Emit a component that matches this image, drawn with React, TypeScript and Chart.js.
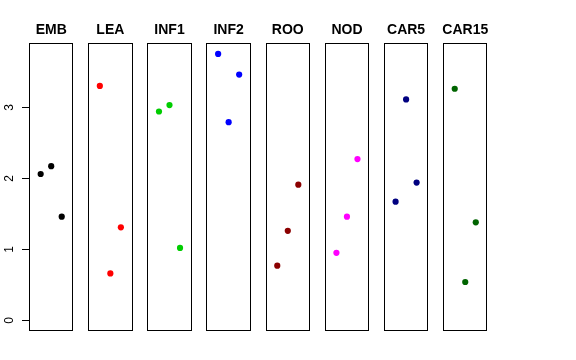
import { useEffect, useRef } from "react";
import { Chart, registerables } from "chart.js";
Chart.register(...registerables);

const panelNames = ["EMB", "LEA", "INF1", "INF2", "ROO", "NOD", "CAR5", "CAR15"];
const panelColors = ["#000000", "#FF0000", "#00CD00", "#0000FF", "#8B0000", "#FF00FF", "#000080", "#006400"];
const positions = [1, 2, 3];
const embValues = [2.06, 2.17, 1.46];
const leaValues = [3.30, 0.66, 1.31];
const inf1Values = [2.94, 3.03, 1.02];
const inf2Values = [3.75, 2.79, 3.46];
const rooValues = [0.77, 1.26, 1.91];
const nodValues = [0.95, 1.46, 2.27];
const car5Values = [1.67, 3.11, 1.94];
const car15Values = [3.26, 0.54, 1.38];
const allValues = [embValues, leaValues, inf1Values, inf2Values, rooValues, nodValues, car5Values, car15Values];
const yTicks = [0, 1, 2, 3];

const W = 576, H = 360;
const FIRST_LEFT = 29, PANEL_W = 44.4, STEP = 59.15, TOP = 43.3, BOTTOM = 331;
const FONT = "'Liberation Sans', Arial, Helvetica, sans-serif";

function Panel({ index }: { index: number }) {
  const ref = useRef<HTMLCanvasElement>(null);
  useEffect(() => {
    const left = FIRST_LEFT + index * STEP;
    const right = W - (left + PANEL_W);
    const framePlugin = {
      id: "frame" + index,
      afterDraw(chart: any) {
        const ctx = chart.ctx;
        const a = chart.chartArea;
        ctx.save();
        ctx.strokeStyle = "#000";
        ctx.lineWidth = 1;
        const x0 = Math.round(a.left) + 0.5, y0 = Math.round(a.top) + 0.5;
        const x1 = Math.round(a.right) - 0.5, y1 = Math.round(a.bottom) - 0.5;
        ctx.strokeRect(x0, y0, x1 - x0, y1 - y0);
        ctx.fillStyle = "#000";
        ctx.font = "bold 14px " + FONT;
        ctx.textAlign = "center";
        ctx.textBaseline = "alphabetic";
        ctx.fillText(panelNames[index], (a.left + a.right) / 2, 34);
        if (index === 0) {
          const ys = chart.scales.y;
          ctx.font = "12px " + FONT;
          yTicks.forEach((t) => {
            const py = Math.round(ys.getPixelForValue(t)) + 0.5;
            ctx.beginPath();
            ctx.moveTo(a.left - 7, py);
            ctx.lineTo(a.left, py);
            ctx.stroke();
            ctx.save();
            ctx.translate(12.5, py);
            ctx.rotate(-Math.PI / 2);
            ctx.textAlign = "center";
            ctx.textBaseline = "alphabetic";
            ctx.fillText(String(t), 0, 0);
            ctx.restore();
          });
        }
        ctx.restore();
      },
    };
    const chart = new Chart(ref.current!, {
      type: "scatter",
      data: {
        datasets: [
          {
            label: panelNames[index],
            data: positions.map((x, i) => ({ x, y: allValues[index][i] })),
            backgroundColor: panelColors[index],
            borderColor: panelColors[index],
            borderWidth: 0,
            pointRadius: 3.1,
          },
        ],
      },
      options: {
        animation: false,
        responsive: false,
        events: [],
        layout: { padding: { left, right, top: TOP, bottom: H - BOTTOM } },
        plugins: { legend: { display: false }, tooltip: { enabled: false }, title: { display: false } },
        scales: {
          x: { type: "linear", min: -0.11, max: 4.11, display: false },
          y: { type: "linear", min: -0.15, max: 3.9, display: false },
        },
      },
      plugins: [framePlugin],
    });
    return () => chart.destroy();
  }, [index]);
  return (
    <canvas
      ref={ref}
      width={W}
      height={H}
      style={{ position: "absolute", left: 0, top: 0, width: W, height: H }}
    />
  );
}

export default function App() {
  return (
    <div style={{ position: "absolute", left: 0, top: 0, width: W, height: H, background: "#fff" }}>
      {panelNames.map((_, i) => (
        <Panel key={i} index={i} />
      ))}
    </div>
  );
}
